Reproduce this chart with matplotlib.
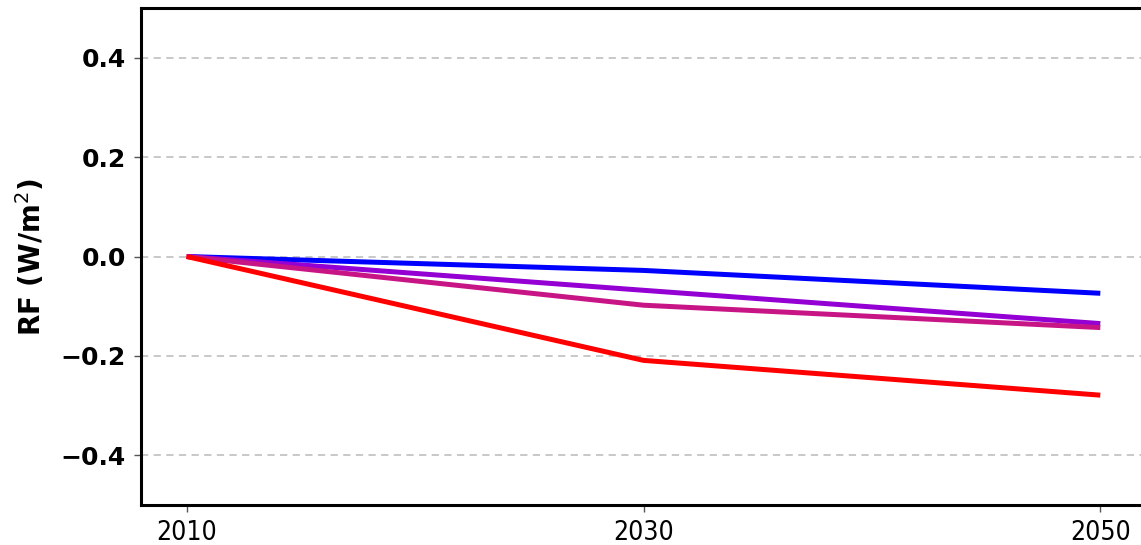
import matplotlib
matplotlib.use("Agg")
import matplotlib.pyplot as plt

years = [2010, 2030, 2050]
rf_blue = [0.0, -0.028, -0.074]
rf_violet = [0.0, -0.068, -0.135]
rf_magenta = [0.0, -0.098, -0.143]
rf_red = [0.0, -0.209, -0.279]

series = [
    (rf_blue, "#0000ff"),
    (rf_violet, "#9400d3"),
    (rf_magenta, "#c71585"),
    (rf_red, "#ff0000"),
]

yticks = [-0.4, -0.2, 0.0, 0.2, 0.4]
xticks = [2010, 2030, 2050]

fig = plt.figure(figsize=(11.41, 5.45), dpi=100)
ax = fig.add_axes([141 / 1141, 40 / 545, 1005 / 1141, 497 / 545])

for vals, col in series:
    ax.plot(years, vals, color=col, lw=3.6, solid_capstyle="butt", zorder=3)

ax.set_xlim(2008, 2052)
ax.set_ylim(-0.5, 0.5)
ax.set_yticks(yticks)
ax.set_xticks(xticks)
ax.grid(axis="y", color="#c4c4c4", linestyle=(0, (4, 3)), lw=1.3)
ax.grid(axis="x", visible=False)

for lbl in ax.get_yticklabels():
    lbl.set_fontsize(18)
    lbl.set_fontweight("bold")
ax.set_xticklabels([str(x) for x in xticks], fontsize=19,
                   family="DejaVu Sans", fontstretch="condensed")

ax.tick_params(axis="both", length=5, width=1, color="#555555", pad=6)
for sp in ax.spines.values():
    sp.set_linewidth(2.2)
    sp.set_color("black")

ax.set_ylabel("RF (W/m$^2$)", fontsize=20, fontweight="bold", labelpad=10)

fig.savefig("out.png", dpi=100)
